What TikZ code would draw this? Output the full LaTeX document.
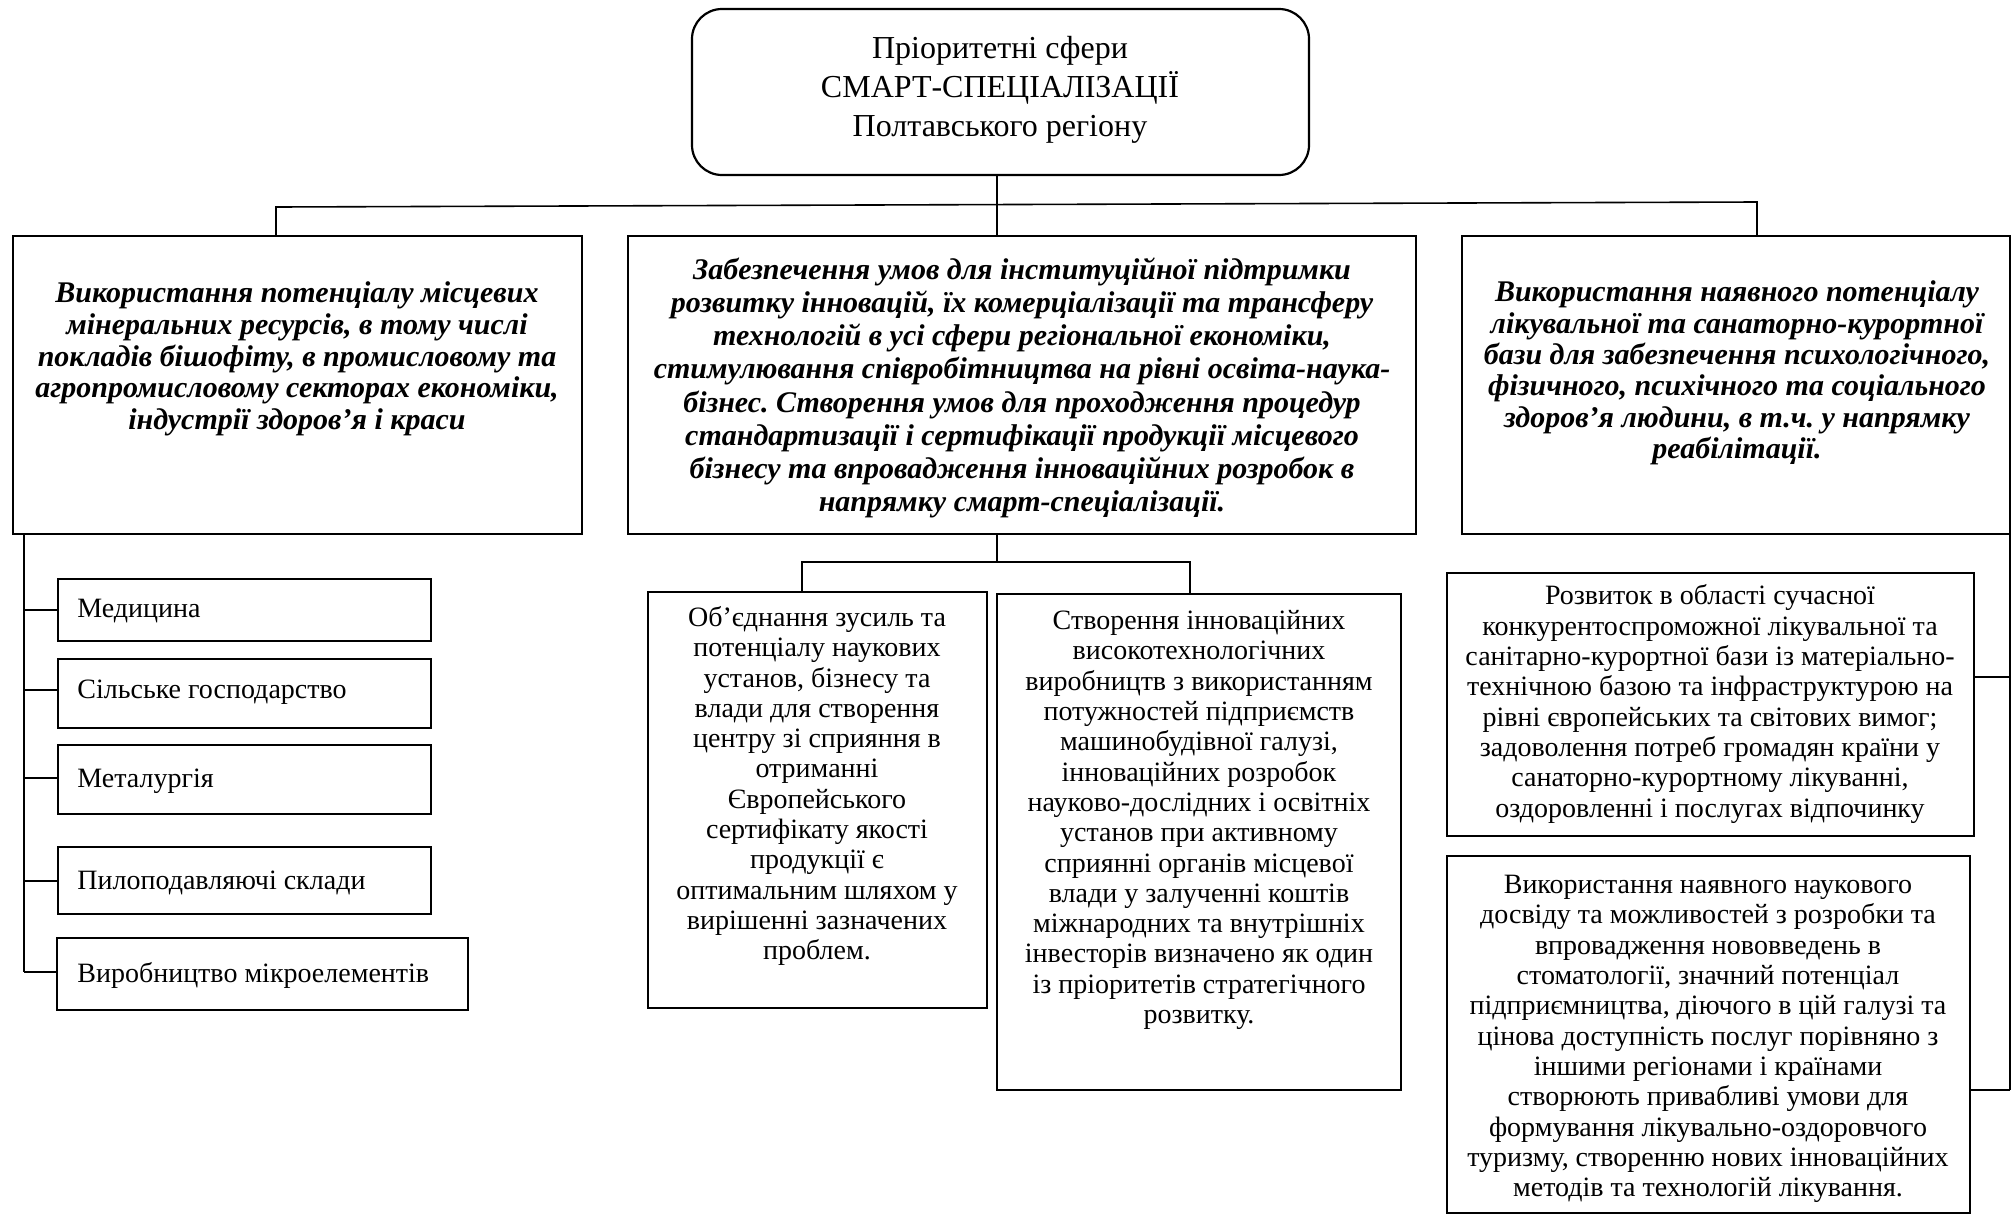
\documentclass[tikz,border=0pt]{standalone}
\usepackage{fontspec}
\setmainfont{Liberation Serif}
\frenchspacing
\begin{document}
\begin{tikzpicture}[x=0.5pt,y=-0.5pt,
  frame/.style={draw, line width=1.1pt, inner sep=0pt},
  conn/.style={draw, line width=0.8pt},
  body/.style={align=center, inner sep=0pt, font=\fontsize{14pt}{15.15pt}\selectfont},
  head/.style={align=center, inner sep=0pt, font=\fontsize{15pt}{15.9pt}\selectfont\bfseries\itshape},
  item/.style={anchor=west, inner sep=0pt, font=\fontsize{14pt}{15pt}\selectfont}]
\useasboundingbox (0,0) rectangle (2013,1216);
\fill[white] (0,0) rectangle (2013,1216);
% frames
\draw[line width=1.1pt, rounded corners=15pt] (692,9) rectangle (1309,175);
\node[inner sep=0pt, minimum width=308.5pt, minimum height=83pt] (top) at (1000.5,92) {};
\node[frame, minimum width=284.5pt, minimum height=149pt] (L) at (297.5,385) {};
\node[frame, minimum width=394pt, minimum height=149pt] (M) at (1022,385) {};
\node[frame, minimum width=274pt, minimum height=149pt] (R) at (1736,385) {};
\node[frame, minimum width=186.5pt, minimum height=31pt] (m1) at (244.5,610) {};
\node[frame, minimum width=186.5pt, minimum height=34.5pt] (m2) at (244.5,693.5) {};
\node[frame, minimum width=186.5pt, minimum height=34.5pt] (m3) at (244.5,779.5) {};
\node[frame, minimum width=186.5pt, minimum height=33.5pt] (m4) at (244.5,880.5) {};
\node[frame, minimum width=205.5pt, minimum height=36pt] (m5) at (262.5,974) {};
\node[frame, minimum width=169.5pt, minimum height=208pt] (s1) at (817.5,800) {};
\node[frame, minimum width=202pt, minimum height=248pt] (s2) at (1199,842) {};
\node[frame, minimum width=263.5pt, minimum height=131.5pt] (r1) at (1710.5,704.5) {};
\node[frame, minimum width=261.5pt, minimum height=178.5pt] (r2) at (1708.5,1034.5) {};
% connectors top level
\coordinate (jc) at (997,205);
\coordinate (jl) at (276,207);
\coordinate (jr) at (1757,202);
\draw[conn] (jc |- top.south) -- (jc |- M.north);
\draw[conn] (jl |- L.north) -- (jl) -- (jr) -- (jr |- R.north);
% middle subtree
\coordinate (mb) at (997,562);
\coordinate (mb1) at (802,562);
\coordinate (mb2) at (1190,562);
\draw[conn] (mb |- M.south) -- (mb);
\draw[conn] (mb1 |- s1.north) -- (mb1) -- (mb2) -- (mb2 |- s2.north);
% left subtree
\coordinate (lv) at (24,972);
\draw[conn] (lv |- L.south) -- (lv);
\coordinate (b1) at (24,610);
\coordinate (b2) at (24,690);
\coordinate (b3) at (24,778);
\coordinate (b4) at (24,881);
\draw[conn] (b1) -- (b1 -| m1.west);
\draw[conn] (b2) -- (b2 -| m2.west);
\draw[conn] (b3) -- (b3 -| m3.west);
\draw[conn] (b4) -- (b4 -| m4.west);
\draw[conn] (lv) -- (lv -| m5.west);
% right subtree
\coordinate (rv) at (2010,1090);
\coordinate (c1) at (2010,677);
\draw[conn] (rv |- R.south) -- (rv);
\draw[conn] (c1) -- (c1 -| r1.east);
\draw[conn] (rv) -- (rv -| r2.east);
% texts
\node[align=center, inner sep=0pt, font=\fontsize{16pt}{19.5pt}\selectfont] (ttop) at (1000,90)
  {Пріоритетні сфери\\СМАРТ-СПЕЦІАЛІЗАЦІЇ\\Полтавського регіону};
\node[head] (tL) at (297,359) {Використання потенціалу місцевих\\мінеральних ресурсів, в тому числі\\покладів бішофіту, в промисловому та\\агропромисловому секторах економіки,\\індустрії здоров’я і краси};
\node[head, font=\fontsize{15pt}{16.6pt}\selectfont\bfseries\itshape] (tM) at (1022,388) {Забезпечення умов для інституційної підтримки\\розвитку інновацій, їх комерціалізації та трансферу\\технологій в усі сфери регіональної економіки,\\стимулювання співробітництва на рівні освіта-наука-\\бізнес. Створення умов для проходження процедур\\стандартизації і сертифікації продукції місцевого\\бізнесу та впровадження інноваційних розробок в\\напрямку смарт-спеціалізації.};
\node[head, font=\fontsize{15pt}{15.7pt}\selectfont\bfseries\itshape] (tR) at (1737,373) {Використання наявного потенціалу\\лікувальної та санаторно-курортної\\бази для забезпечення психологічного,\\фізичного, психічного та соціального\\здоров’я людини, в т.ч. у напрямку\\реабілітації.};
\node[item] (t1) at (77,611.5) {Медицина};
\node[item] (t2) at (77,692) {Сільське господарство};
\node[item] (t3) at (77,781) {Металургія};
\node[item] (t4) at (77,883) {Пилоподавляючі склади};
\node[item] (t5) at (77,975) {Виробництво мікроелементів};
\node[body] (ts1) at (817,786) {Об’єднання зусиль та\\потенціалу наукових\\установ, бізнесу та\\влади для створення\\центру зі сприяння в\\отриманні\\Європейського\\сертифікату якості\\продукції є\\оптимальним шляхом у\\вирішенні зазначених\\проблем.};
\node[body] (ts2) at (1199,820) {Створення інноваційних\\високотехнологічних\\виробництв з використанням\\потужностей підприємств\\машинобудівної галузі,\\інноваційних розробок\\науково-дослідних і освітніх\\установ при активному\\сприянні органів місцевої\\влади у залученні коштів\\міжнародних та внутрішніх\\інвесторів визначено як один\\із пріоритетів стратегічного\\розвитку.};
\node[body] (tr1) at (1710,704) {Розвиток в області сучасної\\конкурентоспроможної лікувальної та\\санітарно-курортної бази із матеріально-\\технічною базою та інфраструктурою на\\рівні європейських та світових вимог;\\задоволення потреб громадян країни у\\санаторно-курортному лікуванні,\\оздоровленні і послугах відпочинку};
\node[body] (tr2) at (1708,1039) {Використання наявного наукового\\досвіду та можливостей з розробки та\\впровадження нововведень в\\стоматології, значний потенціал\\підприємництва, діючого в цій галузі та\\цінова доступність послуг порівняно з\\іншими регіонами і країнами\\створюють привабливі умови для\\формування лікувально-оздоровчого\\туризму, створенню нових інноваційних\\методів та технологій лікування.};
\end{tikzpicture}
\end{document}
